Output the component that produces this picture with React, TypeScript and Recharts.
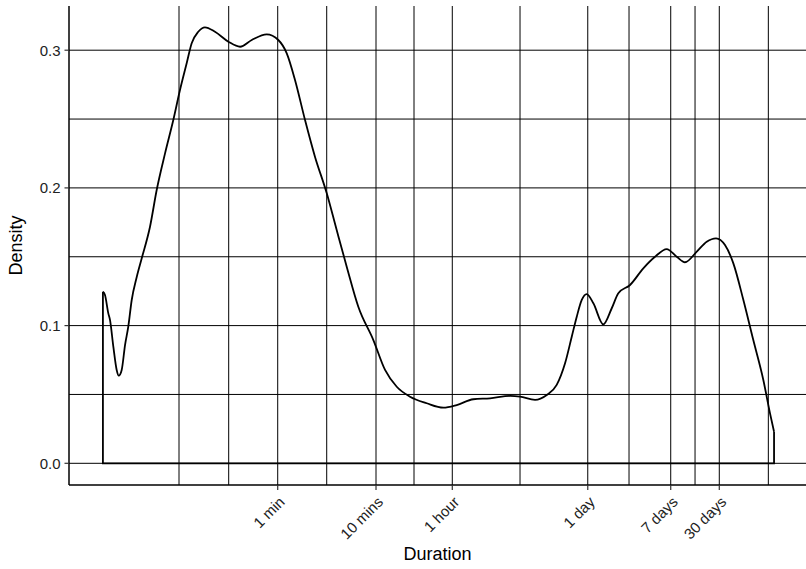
import type { JSX } from "react";
import { LineChart, Line, CartesianGrid, XAxis, YAxis, Label } from "recharts";

// duration on a log10(seconds) scale, density
const logDuration = [
  0.0, 0.021, 0.055, 0.072, 0.106, 0.14, 0.161, 0.191, 0.225, 0.258,
  0.293, 0.344, 0.395, 0.479, 0.547, 0.632, 0.716, 0.784, 0.852, 0.903,
  0.97, 1.038, 1.14, 1.276, 1.395, 1.514, 1.666, 1.784, 1.87, 1.954,
  2.056, 2.157, 2.277, 2.378, 2.48, 2.598, 2.751, 2.87, 2.989, 3.124,
  3.294, 3.463, 3.599, 3.768, 3.938, 4.141, 4.243, 4.396, 4.515, 4.616,
  4.701, 4.769, 4.82, 4.871, 4.921, 4.989, 5.09, 5.176, 5.243, 5.362,
  5.497, 5.616, 5.735, 5.837, 5.921, 6.041, 6.142, 6.237, 6.328, 6.413,
  6.515, 6.616, 6.718, 6.786, 6.827,
];

const density = [
  0.1246, 0.1222, 0.1089, 0.1041, 0.0847, 0.0678, 0.0636, 0.0678, 0.0859, 0.0992,
  0.1186, 0.1353, 0.1489, 0.1718, 0.1985, 0.2251, 0.2493, 0.2711, 0.2905, 0.305,
  0.3134, 0.3166, 0.3134, 0.3062, 0.3025, 0.3074, 0.3115, 0.3074, 0.2977, 0.2784,
  0.2493, 0.2227, 0.1961, 0.1694, 0.1428, 0.1137, 0.0895, 0.0678, 0.0556, 0.0484,
  0.0436, 0.0404, 0.0423, 0.0465, 0.0472, 0.0489, 0.0484, 0.046, 0.0496, 0.0569,
  0.0726, 0.0919, 0.1065, 0.1186, 0.1229, 0.1162, 0.1009, 0.1126, 0.1235, 0.1295,
  0.1416, 0.15, 0.1556, 0.15, 0.146, 0.1537, 0.1609, 0.1634, 0.1585, 0.1452,
  0.1186, 0.0895, 0.0605, 0.0363, 0.0229,
];

const breakValues = [1.778, 2.778, 3.554, 4.932, 5.776, 6.27];
const breakLabels = ["1 min", "10 mins", "1 hour", "1 day", "7 days", "30 days"];
const minorBreaks = [0.774, 1.2795, 2.2765, 3.1646, 4.2429, 5.3518, 6.0232, 6.7688];

const densityTicks = [0, 0.1, 0.2, 0.3];
const densityGrid = [0, 0.05, 0.1, 0.15, 0.2, 0.25, 0.3];

const xDomain = [-0.345, 7.152];
const yDomain = [-0.01576, 0.3321];

const curveData = logDuration.map((x, i) => ({ x, y: density[i] }));
const last = logDuration.length - 1;
// closed outline of the density polygon (sides and baseline)
const outlineData = [
  { x: logDuration[0], y: density[0] },
  { x: logDuration[0], y: 0 },
  { x: logDuration[last], y: 0 },
  { x: logDuration[last], y: density[last] },
];

const DurationTick = (props: any) => {
  const { x, y, payload } = props;
  const i = breakValues.indexOf(payload.value);
  const px = x + 8;
  const py = y + 11;
  return (
    <text
      x={px}
      y={py}
      textAnchor="end"
      fontSize={15}
      fill="#222"
      transform={`rotate(-45 ${px} ${py})`}
    >
      {i >= 0 ? breakLabels[i] : ""}
    </text>
  );
};

const App = (): JSX.Element => {
  return (
    <div style={{ position: "absolute", left: 0, top: 0 }}>
      <LineChart
        width={806}
        height={569}
        margin={{ top: 6, right: 0, bottom: 0, left: 0 }}
        style={{ fontFamily: "'Liberation Sans', Arial, sans-serif" }}
      >
        <CartesianGrid
          stroke="#000"
          strokeWidth={1}
          horizontalValues={densityGrid}
          verticalValues={[...minorBreaks, ...breakValues]}
        />
        <XAxis
          xAxisId="top"
          orientation="top"
          type="number"
          dataKey="x"
          domain={xDomain}
          allowDataOverflow
          height={0}
          tick={false}
          tickLine={false}
          axisLine={{ stroke: "#000", strokeWidth: 1.5 }}
        />
        <XAxis
          type="number"
          dataKey="x"
          domain={xDomain}
          allowDataOverflow
          ticks={breakValues}
          interval={0}
          height={84}
          tickSize={5}
          tickMargin={2}
          tick={<DurationTick />}
          tickLine={{ stroke: "#333", strokeWidth: 1.2 }}
          axisLine={{ stroke: "#000", strokeWidth: 1.5 }}
        >
          <Label
            content={(p: any) => {
              const vb = p.viewBox;
              return (
                <text
                  x={vb.x + vb.width / 2}
                  y={vb.y + 75}
                  textAnchor="middle"
                  fontSize={18}
                  fill="#000"
                >
                  Duration
                </text>
              );
            }}
          />
        </XAxis>
        <YAxis
          type="number"
          domain={yDomain}
          allowDataOverflow
          ticks={densityTicks}
          tickFormatter={(v: number) => v.toFixed(1)}
          width={69}
          tickSize={4.5}
          tickMargin={4}
          tick={{ fontSize: 15, fill: "#222" }}
          tickLine={{ stroke: "#333", strokeWidth: 1.2 }}
          axisLine={{ stroke: "#000", strokeWidth: 1.5 }}
        >
          <Label
            content={(p: any) => {
              const vb = p.viewBox;
              const cx = 22;
              const cy = vb.y + vb.height / 2;
              return (
                <text
                  x={cx}
                  y={cy}
                  textAnchor="middle"
                  fontSize={18}
                  fill="#000"
                  transform={`rotate(-90 ${cx} ${cy})`}
                >
                  Density
                </text>
              );
            }}
          />
        </YAxis>
        <Line
          data={outlineData}
          dataKey="y"
          type="linear"
          stroke="#000"
          strokeWidth={1.8}
          dot={false}
          activeDot={false}
          isAnimationActive={false}
        />
        <Line
          data={curveData}
          dataKey="y"
          type="monotone"
          stroke="#000"
          strokeWidth={1.8}
          dot={false}
          activeDot={false}
          isAnimationActive={false}
        />
      </LineChart>
    </div>
  );
};

export default App;
